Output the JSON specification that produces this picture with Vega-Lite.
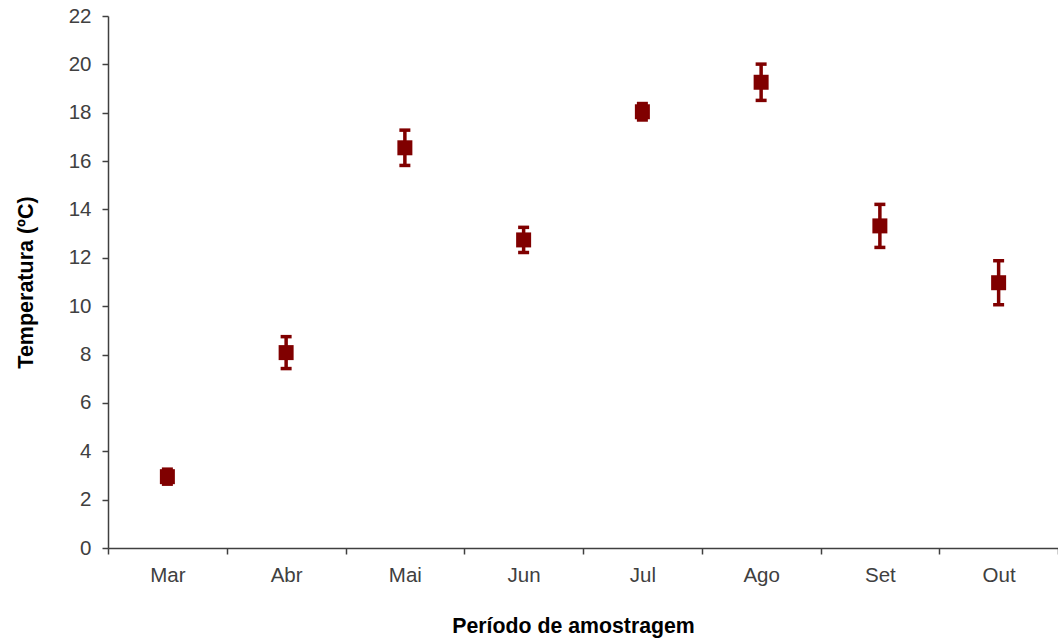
{
  "$schema": "https://vega.github.io/schema/vega-lite/v6.json",
  "autosize": "none",
  "width": 950,
  "height": 532,
  "padding": {"left": 108, "top": 16, "right": 0, "bottom": 91},
  "background": "white",
  "config": {
    "view": {"stroke": null},
    "font": "Liberation Sans"
  },
  "data": {
    "values": [
      {"mes": "Mar", "temp": 2.95, "lo": 2.64, "hi": 3.26},
      {"mes": "Abr", "temp": 8.08, "lo": 7.42, "hi": 8.74},
      {"mes": "Mai", "temp": 16.55, "lo": 15.82, "hi": 17.28},
      {"mes": "Jun", "temp": 12.74, "lo": 12.22, "hi": 13.26},
      {"mes": "Jul", "temp": 18.04, "lo": 17.70, "hi": 18.38},
      {"mes": "Ago", "temp": 19.26, "lo": 18.51, "hi": 20.01},
      {"mes": "Set", "temp": 13.32, "lo": 12.43, "hi": 14.21},
      {"mes": "Out", "temp": 10.97, "lo": 10.06, "hi": 11.88}
    ]
  },
  "encoding": {
    "x": {
      "field": "mes",
      "type": "nominal",
      "sort": null,
      "scale": {"type": "band", "paddingInner": 0, "paddingOuter": 0},
      "axis": {
        "title": "Período de amostragem",
        "titleFont": "Liberation Sans",
        "titleFontSize": 21.3,
        "titleFontWeight": "bold",
        "titleColor": "#000000",
        "titlePadding": 30,
        "titleX": 465,
        "labelAngle": 0,
        "labelFontSize": 20.5,
        "labelColor": "#404040",
        "labelPadding": 11,
        "tickBand": "extent",
        "tickSize": 6,
        "tickColor": "#404040",
        "domainColor": "#404040",
        "domainWidth": 1.5,
        "tickWidth": 1.5,
        "grid": false
      }
    }
  },
  "layer": [
    {
      "mark": {"type": "rule", "color": "#800000", "strokeWidth": 3.5, "opacity": 1},
      "encoding": {
        "y": {"field": "lo", "type": "quantitative"},
        "y2": {"field": "hi"}
      }
    },
    {
      "mark": {"type": "tick", "color": "#800000", "size": 11, "thickness": 3.5, "opacity": 1},
      "encoding": {
        "y": {"field": "lo", "type": "quantitative"}
      }
    },
    {
      "mark": {"type": "tick", "color": "#800000", "size": 11, "thickness": 3.5, "opacity": 1},
      "encoding": {
        "y": {"field": "hi", "type": "quantitative"}
      }
    },
    {
      "mark": {"type": "point", "shape": "square", "filled": true, "color": "#800000", "size": 225, "opacity": 1},
      "encoding": {
        "y": {
          "field": "temp",
          "type": "quantitative",
          "scale": {"domain": [0, 22], "nice": false},
          "axis": {
            "title": "Temperatura (ºC)",
            "titleFont": "Liberation Sans",
            "titleFontSize": 21.5,
            "titleFontWeight": "bold",
            "titleColor": "#000000",
            "titlePadding": 31,
            "values": [0, 2, 4, 6, 8, 10, 12, 14, 16, 18, 20, 22],
            "labelFontSize": 20.5,
            "labelColor": "#404040",
            "labelPadding": 11,
            "tickSize": 6,
            "tickColor": "#404040",
            "domainColor": "#404040",
            "domainWidth": 1.5,
            "tickWidth": 1.5,
            "grid": false
          }
        }
      }
    }
  ]
}
